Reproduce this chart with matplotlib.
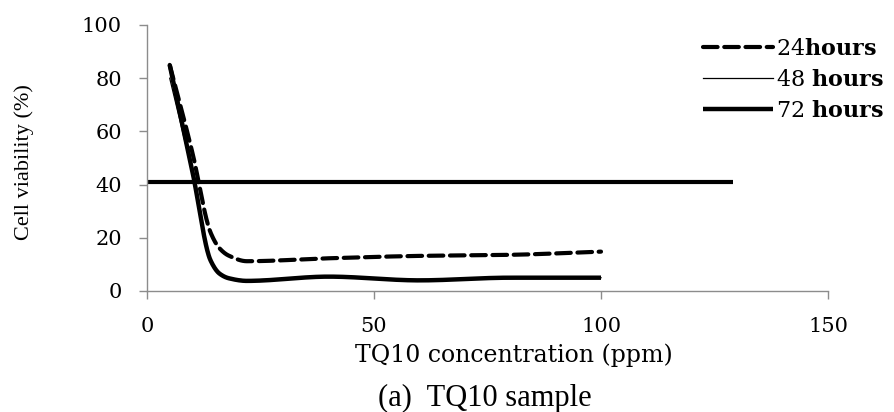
import numpy as np
import matplotlib
matplotlib.use("Agg")
import matplotlib.pyplot as plt

# ---- data ----
concentration = [5, 10, 14, 16, 18, 22, 40, 60, 80, 100]
viability_24h = [85, 52, 22, 16, 13.3, 11.2, 12.3, 13.2, 13.6, 14.8]
viability_48h = [80, 44, 11.5, 6.6, 5.0, 4.2, 5.2, 4.2, 5.0, 5.0]
viability_72h = [85, 45, 11.5, 6.5, 4.8, 3.8, 5.4, 4.0, 5.0, 5.0]
threshold_x = [0, 129]
threshold_y = [41, 41]
x_ticks = [0, 50, 100, 150]
y_ticks = [0, 20, 40, 60, 80, 100]
legend_labels = [r"24$\mathbf{hours}$", r"48 $\mathbf{hours}$", r"72 $\mathbf{hours}$"]

plt.rcParams['mathtext.fontset'] = 'custom'
plt.rcParams['mathtext.rm'] = 'DejaVu Serif'
plt.rcParams['mathtext.bf'] = 'DejaVu Serif:bold'


def smooth(xs, ys, n=40):
    """Shape-preserving (monotone cubic) smoothed line through the data points."""
    x = np.asarray(xs, float)
    y = np.asarray(ys, float)
    h = np.diff(x)
    d = np.diff(y) / h
    m = np.zeros_like(y)
    for k in range(1, len(x) - 1):
        if d[k - 1] * d[k] > 0:
            w1 = 2 * h[k] + h[k - 1]
            w2 = h[k] + 2 * h[k - 1]
            m[k] = (w1 + w2) / (w1 / d[k - 1] + w2 / d[k])
    m[0] = d[0]
    m[-1] = d[-1]
    X, Y = [], []
    for k in range(len(x) - 1):
        t = np.linspace(0, 1, n)
        if k > 0:
            t = t[1:]
        h00 = 2 * t**3 - 3 * t**2 + 1
        h10 = t**3 - 2 * t**2 + t
        h01 = -2 * t**3 + 3 * t**2
        h11 = t**3 - t**2
        X.append(x[k] + t * h[k])
        Y.append(h00 * y[k] + h10 * h[k] * m[k] + h01 * y[k + 1] + h11 * h[k] * m[k + 1])
    return np.concatenate(X), np.concatenate(Y)


fig = plt.figure(figsize=(8.94, 4.12), dpi=100)
ax = fig.add_axes([147 / 894, 1 - 291 / 412, (828 - 147) / 894, (291 - 25) / 412])

sx, sy = smooth(concentration, viability_24h)
l1, = ax.plot(sx, sy, color='black', lw=3, linestyle=(0, (3.5, 1.6)), dash_capstyle='round')
sx, sy = smooth(concentration, viability_48h)
l2, = ax.plot(sx, sy, color='black', lw=0.9)
sx, sy = smooth(concentration, viability_72h)
l3, = ax.plot(sx, sy, color='black', lw=3.2, solid_capstyle='butt')
ax.plot(threshold_x, threshold_y, color='black', lw=3, solid_capstyle='butt')

ax.set_xlim(0, 150)
ax.set_ylim(0, 100)
ax.set_xticks(x_ticks)
ax.set_yticks(y_ticks)
for s in ['top', 'right']:
    ax.spines[s].set_visible(False)
for s in ['left', 'bottom']:
    ax.spines[s].set_color('#8c8c8c')
    ax.spines[s].set_linewidth(1.0)
ax.tick_params(axis='both', colors='#8c8c8c', length=6, width=1.0, direction='out')
ax.tick_params(axis='y', pad=12, labelcolor='black')
ax.tick_params(axis='x', pad=13, labelcolor='black')
for lab in ax.get_xticklabels() + ax.get_yticklabels():
    lab.set_family('DejaVu Serif')
    lab.set_fontsize(15)

ax.set_xlabel('TQ10 concentration (ppm)', family='DejaVu Serif', fontsize=17)
ax.xaxis.set_label_coords((514 - 147) / 681, (291 - 355) / 266)
ax.xaxis.label.set_va('center')
ax.set_ylabel('Cell viability (%)', family='Liberation Serif', fontsize=16)
ax.yaxis.set_label_coords((24 - 147) / 681, (291 - 162) / 266)
ax.yaxis.label.set_va('center')

leg = fig.legend([l1, l2, l3], legend_labels, loc='upper left',
                 bbox_to_anchor=(703 / 894, 1 - 38 / 412), bbox_transform=fig.transFigure,
                 frameon=False, prop={'family': 'DejaVu Serif', 'size': 16},
                 handlelength=3.15, handletextpad=0.12, labelspacing=0.4,
                 borderpad=0, borderaxespad=0)

fig.text(485 / 894, 1 - 398 / 412, '(a)  TQ10 sample', family='Liberation Serif', fontsize=22,
         ha='center', va='center')

fig.savefig('out.png', dpi=100)
